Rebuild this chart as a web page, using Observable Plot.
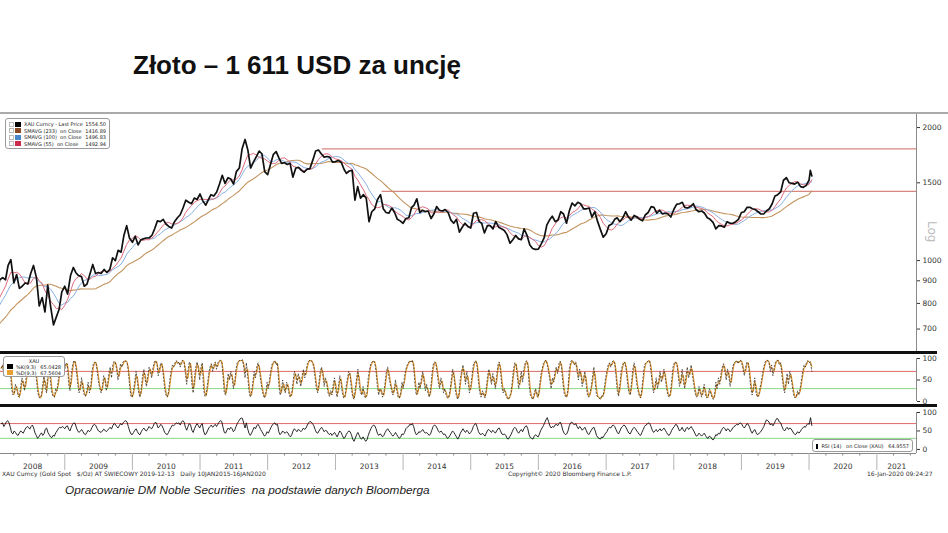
<!DOCTYPE html>
<html><head><meta charset="utf-8">
<script src="https://cdn.jsdelivr.net/npm/d3@7"></script>
<script src="https://cdn.jsdelivr.net/npm/@observablehq/plot@0.6"></script>
<style>
body{margin:0;background:#fff;}
#page{position:relative;width:948px;height:533px;overflow:hidden;background:#fff;font-family:"DejaVu Sans",sans-serif;}
.abs{position:absolute;}
.bar{position:absolute;}
.lg{position:absolute;border:1px solid #9a9a9a;border-radius:3px;background:#fff;font-size:5px;color:#222;box-sizing:border-box;padding:2px 3px;}
.r{display:flex;align-items:center;height:6.5px;white-space:pre;}
#stochLegend .r{height:5.8px;}
.cb{width:3px;height:3px;border:1px solid #bbb;margin-right:1px;}
.sq{width:6px;height:5px;margin-right:3px;}
.nm{flex:1;}
.ft{position:absolute;font-size:6px;line-height:8px;color:#333;white-space:pre;}
</style></head><body><div id="page">
<div class="abs" id="title" style="left:133px;top:52px;font:bold 26px/26px 'Liberation Sans',Arial,sans-serif;color:#111;white-space:pre;"></div>
<div class="bar" style="left:0;top:112px;width:948px;height:2px;background:#aaa;"></div>
<div class="abs" id="mainPlot" style="left:0;top:114px;"></div>
<div class="abs" id="stochPlot" style="left:0;top:353px;"></div>
<div class="abs" id="rsiPlot" style="left:0;top:406px;"></div>
<div class="bar" style="left:0;top:351px;width:937px;height:3px;background:#111;"></div>
<div class="bar" style="left:0;top:404px;width:937px;height:3px;background:#111;"></div>
<div class="abs" style="left:925px;top:221px;font-size:12px;color:#bbb;writing-mode:vertical-rl;">Log</div>
<div class="lg" id="mainLegend" style="left:5px;top:118px;width:105px;height:31px;"></div>
<div class="lg" id="stochLegend" style="left:3px;top:356px;width:62px;height:21px;padding:1px 3px;"></div>
<div class="lg" id="rsiLegend" style="left:812px;top:439px;width:101px;height:13px;padding-top:3px;"></div>
<div class="ft" id="ft1" style="left:2px;top:470px;"></div>
<div class="ft" id="ft2" style="left:508px;top:470px;"></div>
<div class="ft" id="ft3" style="left:867px;top:470px;"></div>
<div class="abs" id="caption" style="left:65px;top:483px;font:italic 11.8px/14px 'Liberation Sans',Arial,sans-serif;color:#222;white-space:pre;"></div>
</div>
<script>
// ---------- texts ----------
const titleText = "Złoto – 1 611 USD za uncję";
const captionText = "Opracowanie DM Noble Securities  na podstawie danych Bloomberga";
const footerTexts = ["XAU Curncy (Gold Spot   $/Oz) AT SWIECOWY 2019-12-13   Daily 10JAN2015-16JAN2020",
                     "Copyright© 2020 Bloomberg Finance L.P.",
                     "16-Jan-2020 09:24:27"];
const legendNames = ["XAU Curncy - Last Price", "SMAVG (233)  on Close", "SMAVG (100)  on Close", "SMAVG (55)  on Close"];
const legendValues = ["1554.50", "1416.89", "1496.83", "1492.94"];
const legendSquares = ["#000000", "#8b4a26", "#4a86cc", "#cc2a4a"];
const stochNames = ["%K(9,3)", "%D(9,3)"];
const stochValues = ["65.0428", "67.5604"];
const stochSquares = ["#000000", "#e8a030"];
const rsiLegendText = "RSI (14)   on Close (XAU)   64.9557";

// ---------- axis ticks ----------
const priceTicks = [700, 800, 900, 1000, 1500, 2000];
const oscTicks = [0, 50, 100];
const yearLabels = ["2008","2009","2010","2011","2012","2013","2014","2015","2016","2017","2018","2019","2020","2021"];

// ---------- gold price, 1st and 16th of each month ----------
const gold2007 = [632,627,650,665,672,655,663,690,680,668,660,656,650,665,668,660,672,712,743,765,795,790,785,805];
const gold2008 = [845,905,915,905,975,1005,890,930,865,875,890,885,935,975,915,790,825,765,880,790,715,745,775,850];
const gold2009 = [875,840,925,965,940,925,920,875,885,930,980,935,940,935,955,940,955,1015,1000,1055,1045,1140,1200,1125];
const gold2010 = [1100,1135,1085,1115,1120,1125,1125,1140,1180,1230,1225,1240,1210,1195,1185,1225,1250,1270,1315,1370,1355,1345,1385,1375];
const gold2011 = [1415,1365,1335,1375,1410,1400,1430,1490,1560,1495,1540,1530,1490,1590,1620,1790,1880,1780,1620,1670,1720,1770,1745,1590];
const gold2012 = [1565,1650,1740,1765,1710,1660,1665,1650,1660,1545,1620,1625,1600,1585,1610,1615,1690,1770,1780,1745,1715,1720,1715,1670];
const gold2013 = [1675,1685,1670,1610,1575,1595,1600,1370,1470,1385,1410,1385,1225,1290,1310,1375,1410,1310,1285,1280,1315,1285,1240,1230];
const gold2014 = [1215,1245,1250,1320,1335,1380,1285,1300,1290,1295,1245,1275,1325,1300,1295,1305,1285,1235,1215,1240,1160,1190,1215,1195];
const gold2015 = [1185,1280,1285,1225,1215,1155,1200,1200,1180,1225,1190,1180,1170,1145,1095,1115,1140,1120,1115,1180,1140,1085,1065,1060];
const gold2016 = [1062,1090,1125,1205,1235,1260,1225,1235,1290,1275,1215,1295,1350,1330,1355,1345,1310,1310,1315,1255,1290,1225,1175,1130];
const gold2017 = [1150,1200,1210,1240,1250,1225,1250,1290,1255,1235,1265,1255,1240,1230,1270,1285,1325,1320,1280,1300,1275,1280,1275,1255];
const gold2018 = [1305,1340,1345,1355,1320,1315,1325,1345,1305,1290,1295,1280,1250,1240,1220,1180,1200,1198,1190,1225,1215,1215,1225,1240];
const gold2019 = [1285,1290,1320,1320,1310,1305,1290,1275,1275,1295,1310,1345,1400,1410,1430,1520,1540,1500,1495,1490,1505,1470,1465,1478];
const gold2020 = [1520,1600,1554];
const gold2020Days = ["2020-01-01","2020-01-08","2020-01-16"];

// ---------- resistance lines ----------
const resistLevels = [1790, 1435];
const resistStarts = ["2012-10-22", "2013-09-10"];

// ---------- stochastic %K, weekly (ending 16 Jan 2020) ----------
const stoch2008 = [78,85,60,72,90,94,88,70,30,15,20,40,28,12,10,35,55,40,25,50,70,82,78,60,85,92,88,55,25,10,8,15,40,62,30,20,75,85,45,20,12,10,30,25,50,70,85,92,88,75,90,86];
const stoch2009 = [40,25,60,85,95,92,70,40,20,35,55,30,15,12,25,45,20,35,70,88,92,90,70,45,30,20,35,60,50,25,40,65,80,55,85,93,90,75,50,68,88,80,92,95,94,90,70,35,12,10,25,48];
const stoch2010 = [70,45,20,10,30,60,75,50,35,60,80,70,55,78,92,95,88,60,75,90,85,60,30,15,10,22,50,70,85,80,90,95,88,92,80,94,96,90,65,40,70,92,85,40,20,55,80,92,75,50,80,90];
const stoch2011 = [30,12,15,40,65,80,88,70,85,92,75,90,94,96,92,60,20,15,40,65,50,70,55,30,45,75,90,94,96,95,97,80,55,90,60,25,10,20,45,70,55,80,90,75,50,30,15,8,20,45,30,55];
const stoch2012 = [75,88,92,95,85,90,40,15,25,50,30,20,45,35,15,10,20,45,70,60,40,65,50,35,60,75,55,70,88,94,96,95,90,80,55,30,20,45,70,80,60,35,55,40,20,12,25,15,40,55,25,10];
const stoch2013 = [35,60,45,20,8,12,35,55,70,60,30,10,5,30,55,75,40,20,15,35,12,8,20,55,75,88,92,95,90,70,35,15,30,25,10,20,45,70,80,55,40,25,15,30,50,25,10,8,20,45,30,60];
const stoch2014 = [75,85,90,95,92,96,80,40,15,20,45,30,55,70,45,25,40,20,10,25,60,85,92,90,70,45,30,55,40,20,30,15,8,10,25,50,75,60,30,12,5,20,55,70,85,60,40,70,45,20,35,60];
const stoch2015 = [85,92,95,80,45,20,10,25,15,8,30,60,75,55,40,65,45,30,60,85,92,70,35,20,30,15,8,5,12,20,45,75,90,85,55,30,50,70,45,75,90,95,85,40,15,8,5,20,30,12,10,35];
const stoch2016 = [60,75,88,94,96,85,70,50,30,55,45,70,80,65,88,94,80,45,20,12,10,30,75,92,96,90,85,92,70,50,75,60,35,55,70,40,15,10,20,35,60,80,45,15,10,8,5,15,12,30,55,70];
const stoch2017 = [85,90,80,92,95,88,60,25,12,40,70,85,92,90,70,40,20,15,45,75,90,70,40,25,12,8,30,60,85,90,92,95,94,70,40,20,35,55,30,50,70,45,60,75,55,30,15,10,20,50,80,90];
const stoch2018 = [92,85,60,35,50,75,45,30,60,80,55,70,85,60,40,20,10,15,35,20,10,25,40,15,8,12,30,20,10,5,15,45,30,55,40,65,80,88,70,50,75,60,35,55,80,90,92,95,88,94,96,90];
const stoch2019 = [75,60,80,92,88,60,30,15,35,55,20,10,15,30,45,65,80,92,96,95,90,70,85,60,80,92,95,96,85,90,60,35,20,45,65,40,70,55,35,15,8,12,25,15,30,50,70,85,80,92,95,90];
const stoch2020 = [92,70];

// ---------- RSI(14), weekly (ending 16 Jan 2020) ----------
const rsi2008 = [70,72,62,68,75,78,72,60,45,42,50,46,40,38,45,50,47,44,52,58,62,60,55,62,66,58,45,38,30,34,40,45,38,42,55,58,46,40,34,32,38,36,45,50,56,60,58,62,60,56,62,64];
const rsi2009 = [55,50,60,68,72,70,58,50,46,50,54,48,42,40,46,52,48,52,60,66,68,64,56,50,48,46,50,55,52,48,52,56,60,55,64,70,68,62,58,64,70,66,72,76,78,74,62,50,42,40,46,52];
const rsi2010 = [56,48,42,40,48,54,58,52,50,56,62,58,56,62,70,74,68,58,62,68,64,56,46,42,40,46,54,60,66,64,68,72,70,72,66,74,78,74,60,52,62,70,66,52,46,56,64,70,64,58,66,70];
const rsi2011 = [50,40,42,50,58,62,66,60,64,68,62,68,74,78,76,60,46,44,52,58,54,60,56,48,52,62,70,76,82,85,84,70,58,72,56,44,38,44,52,60,56,64,68,62,54,48,42,36,40,48,44,52];
const rsi2012 = [60,66,70,72,66,68,48,40,44,50,46,44,48,45,38,34,40,50,56,52,48,54,52,48,52,58,54,58,66,72,76,74,70,64,54,46,44,50,56,60,54,48,52,50,44,40,44,38,42,46,40,34];
const rsi2013 = [42,50,46,38,30,32,40,46,50,48,40,28,22,30,40,46,38,30,28,34,28,22,26,38,48,56,62,66,64,56,44,38,42,40,34,38,46,52,56,50,46,40,36,40,46,40,34,30,34,42,40,46];
const rsi2014 = [56,60,62,68,66,70,62,48,40,42,48,46,50,54,48,44,46,42,38,42,52,62,66,64,58,50,46,50,46,40,42,36,30,32,38,44,50,46,40,34,28,34,44,50,56,50,46,52,48,42,46,52];
const rsi2015 = [62,68,70,60,48,42,40,44,40,36,44,52,54,50,46,52,48,44,50,56,58,50,42,40,42,38,30,28,34,40,48,56,60,56,48,44,50,54,48,56,62,64,56,40,32,30,28,36,40,36,34,42];
const rsi2016 = [52,58,64,72,80,86,76,64,58,62,60,66,68,64,70,74,66,52,44,40,42,50,64,72,74,70,66,70,62,56,62,58,52,56,60,52,44,40,46,52,58,60,50,38,32,30,28,34,32,38,44,48];
const rsi2017 = [56,60,58,64,66,62,54,46,42,50,58,62,66,64,58,50,44,42,50,56,60,56,50,46,40,38,46,54,62,66,68,72,70,62,52,46,50,54,48,52,56,50,54,58,52,46,40,38,44,52,58,62];
const rsi2018 = [68,66,58,50,54,60,52,48,56,60,54,58,62,56,50,42,36,38,44,40,36,40,44,38,32,30,36,34,28,26,32,40,38,44,42,50,56,60,56,50,56,54,48,52,58,62,64,68,66,70,72,68];
const rsi2019 = [62,58,64,70,68,60,50,44,50,54,46,40,42,46,50,56,62,72,80,78,74,66,70,64,70,78,84,82,74,72,62,54,50,56,60,54,58,56,50,44,40,42,48,44,48,54,58,62,60,66,70,68];
const rsi2020 = [86,65];

// ---------- build tables ----------
const goldYears = [[2007,gold2007],[2008,gold2008],[2009,gold2009],[2010,gold2010],[2011,gold2011],[2012,gold2012],
  [2013,gold2013],[2014,gold2014],[2015,gold2015],[2016,gold2016],[2017,gold2017],[2018,gold2018],[2019,gold2019]];
const priceRows = [];
for (const [yr, arr] of goldYears) arr.forEach((v, i) => priceRows.push({date: new Date(Date.UTC(yr, i >> 1, i % 2 ? 16 : 1)), price: v}));
gold2020.forEach((v, i) => priceRows.push({date: new Date(gold2020Days[i]), price: v}));

const stochAll = [].concat(stoch2008, stoch2009, stoch2010, stoch2011, stoch2012, stoch2013, stoch2014, stoch2015, stoch2016, stoch2017, stoch2018, stoch2019, stoch2020);
const rsiAll = [].concat(rsi2008, rsi2009, rsi2010, rsi2011, rsi2012, rsi2013, rsi2014, rsi2015, rsi2016, rsi2017, rsi2018, rsi2019, rsi2020);
const lastDay = Date.UTC(2020, 0, 16), WEEK = 7 * 864e5;
const weekly = arr => arr.map((v, i) => ({date: new Date(lastDay - (arr.length - 1 - i) * WEEK), v}));
const stochRows = weekly(stochAll);
const rsiRows = weekly(rsiAll);
const resist = resistLevels.map((l, i) => ({level: l, start: new Date(resistStarts[i])}));

const xDomain = [new Date(Date.UTC(2008, 0, 20)), new Date(Date.UTC(2021, 7, 3))];
const baseStyle = {background: "transparent", fontFamily: "DejaVu Sans, sans-serif", fontSize: "7.5px", color: "#333"};
const W = 948, MR = 32;

// ---------- main price panel ----------
const mainPlot = Plot.plot({
  width: W, height: 238, marginLeft: 0, marginRight: MR, marginTop: 0, marginBottom: 0,
  style: baseStyle,
  x: {type: "utc", domain: xDomain, axis: null},
  y: {type: "log", domain: [619.5, 2141], axis: "right", ticks: priceTicks, tickFormat: d => String(d), tickSize: 3, tickPadding: 3, label: null},
  marks: [
    Plot.ruleX([xDomain[1]], {stroke: "#8a8a8a"}),
    Plot.ruleY(resist, {y: "level", x1: "start", x2: () => xDomain[1], stroke: "#d7877f", strokeWidth: 1.2}),
    Plot.lineY(priceRows, Plot.windowY({k: 21, anchor: "end", reduce: "mean"}, {x: "date", y: "price", stroke: "#c4945f", strokeWidth: 1.1, clip: true})),
    Plot.lineY(priceRows, Plot.windowY({k: 9, anchor: "end", reduce: "mean"}, {x: "date", y: "price", stroke: "#86b0e4", strokeWidth: 1, clip: true})),
    Plot.lineY(priceRows, Plot.windowY({k: 5, anchor: "end", reduce: "mean"}, {x: "date", y: "price", stroke: "#dc6a7c", strokeWidth: 1, clip: true})),
    Plot.lineY(priceRows, {x: "date", y: "price", stroke: "#111", strokeWidth: 1.7, clip: true})
  ]
});
document.getElementById("mainPlot").append(mainPlot);

// ---------- stochastic panel ----------
const stochPlot = Plot.plot({
  width: W, height: 52, marginLeft: 0, marginRight: MR, marginTop: 5, marginBottom: 4,
  style: baseStyle,
  x: {type: "utc", domain: xDomain, axis: null},
  y: {domain: [0, 100], axis: "right", ticks: oscTicks, tickFormat: d => String(d), tickSize: 3, tickPadding: 3, label: null},
  marks: [
    Plot.ruleX([xDomain[1]], {stroke: "#8a8a8a"}),
    Plot.ruleY([70], {stroke: "#e06a66", strokeWidth: 1}),
    Plot.ruleY([30], {stroke: "#8ad88a", strokeWidth: 1}),
    Plot.lineY(stochRows, Plot.windowY({k: 2, anchor: "end"}, {x: "date", y: "v", stroke: "#e39a35", strokeWidth: 1.1, clip: true})),
    Plot.lineY(stochRows, {x: "date", y: "v", stroke: "#2a2010", strokeWidth: 0.7, strokeDasharray: "1.5,2", clip: true})
  ]
});
document.getElementById("stochPlot").append(stochPlot);

// ---------- RSI panel with time axis ----------
const yearStarts = d3.range(2009, 2022).map(y => new Date(Date.UTC(y, 0, 1)));
const quarterTicks = [];
for (let y = 2008; y <= 2021; y++) for (const m of [3, 6, 9]) {
  const d = new Date(Date.UTC(y, m, 1));
  if (d > xDomain[0] && d < xDomain[1]) quarterTicks.push(d);
}
const yearPos = yearLabels.map((lab, i) => {
  const y = +lab;
  const a = Math.max(Date.UTC(y, 0, 1), +xDomain[0]);
  const b = Math.min(Date.UTC(y + 1, 0, 1), +xDomain[1]);
  return {date: new Date((a + b) / 2), label: lab};
});
const rsiPlot = Plot.plot({
  width: W, height: 67, marginLeft: 0, marginRight: MR, marginTop: 6, marginBottom: 20,
  style: baseStyle,
  x: {type: "utc", domain: xDomain, axis: null},
  y: {domain: [-11, 100], axis: "right", ticks: oscTicks, tickFormat: d => String(d), tickSize: 3, tickPadding: 3, label: null},
  marks: [
    Plot.ruleX([xDomain[1]], {y1: -11, y2: 100, stroke: "#8a8a8a"}),
    Plot.ruleY([70], {stroke: "#e06a66", strokeWidth: 1}),
    Plot.ruleY([30], {stroke: "#8ad88a", strokeWidth: 1}),
    Plot.lineY(rsiRows, {x: "date", y: "v", stroke: "#111", strokeWidth: 0.9, clip: true}),
    Plot.ruleY([-11], {stroke: "#888"}),
    Plot.ruleX(yearStarts, {x: d => d, y1: -11, y2: -57, stroke: "#b5b5b5"}),
    Plot.ruleX(quarterTicks, {x: d => d, y1: -11, y2: -18, stroke: "#888"}),
    Plot.text(yearPos, {x: "date", y: -46, text: "label", fontSize: 7.5, fill: "#333"})
  ]
});
document.getElementById("rsiPlot").append(rsiPlot);

// ---------- texts & legends ----------
document.getElementById("title").textContent = titleText;
document.getElementById("caption").textContent = captionText;
["ft1", "ft2", "ft3"].forEach((id, i) => document.getElementById(id).textContent = footerTexts[i]);

const ml = document.getElementById("mainLegend");
legendNames.forEach((n, i) => {
  const r = document.createElement("div"); r.className = "r";
  r.innerHTML = `<span class="cb"></span><span class="sq" style="background:${legendSquares[i]}"></span><span class="nm">${n}</span><span>${legendValues[i]}</span>`;
  ml.append(r);
});
const sl = document.getElementById("stochLegend");
const sh = document.createElement("div"); sh.className = "r"; sh.style.justifyContent = "center"; sh.textContent = "XAU"; sl.append(sh);
stochNames.forEach((n, i) => {
  const r = document.createElement("div"); r.className = "r";
  r.innerHTML = `<span class="sq" style="background:${stochSquares[i]}"></span><span class="nm">${n}</span><span>${stochValues[i]}</span>`;
  sl.append(r);
});
const rl = document.getElementById("rsiLegend");
const rr = document.createElement("div"); rr.className = "r";
rr.innerHTML = `<span class="sq" style="background:#000"></span><span>${rsiLegendText}</span>`;
rl.append(rr);
</script></body></html>
